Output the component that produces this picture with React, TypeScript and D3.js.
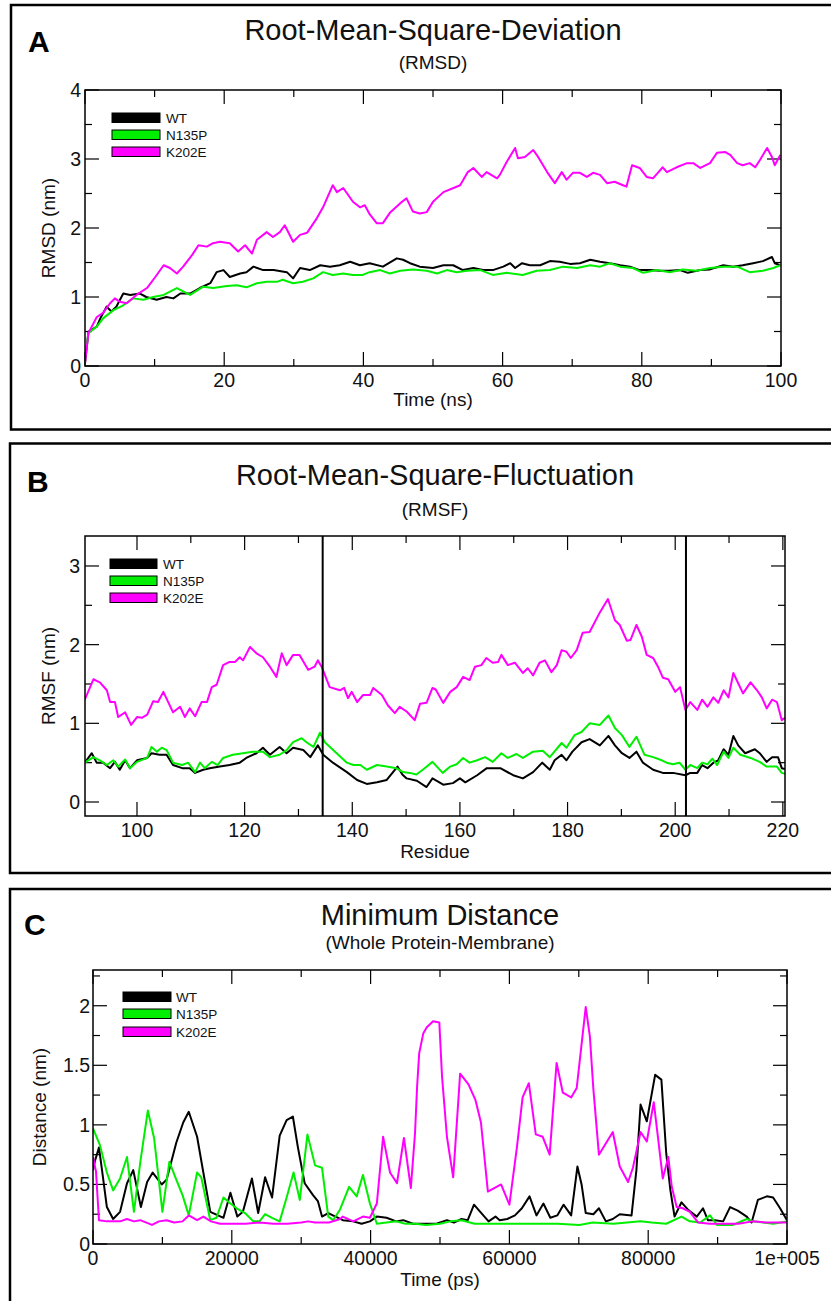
import React from "react";
import * as d3 from "d3";

type Pt = [number, number];

const SERIES = ["WT", "N135P", "K202E"];
const COLORS = ["#000000", "#00ee00", "#ff00ff"];

// ---- Panel A: RMSD (time ns, nm)
const rmsdWT: Pt[] = [[0,0.04],[0.5,0.5],[1.7,0.57],[2.2,0.69],[3.1,0.86],[3.8,0.79],[4.5,0.86],[5.5,1.05],[6.5,1.03],[7.9,1.05],[8.8,1.0],[10.3,0.96],[11.7,1.0],[12.7,0.98],[13.7,1.05],[15.1,1.05],[16.5,1.13],[18,1.2],[18.9,1.36],[19.9,1.39],[20.8,1.29],[22.3,1.34],[23.2,1.36],[24.2,1.44],[25.6,1.39],[27.1,1.39],[29,1.36],[29.9,1.27],[30.9,1.42],[32.3,1.39],[33.8,1.46],[35.2,1.44],[36.6,1.46],[38.1,1.51],[39.5,1.46],[40.9,1.49],[42.8,1.44],[44.8,1.56],[45.7,1.54],[46.7,1.49],[48.1,1.44],[50,1.42],[51.5,1.46],[52.9,1.46],[54.3,1.39],[55.8,1.42],[57.2,1.39],[58.6,1.39],[60.1,1.44],[61.1,1.49],[61.8,1.42],[62.8,1.49],[63.9,1.46],[65.4,1.46],[66.8,1.52],[68.2,1.51],[69.7,1.48],[71.1,1.49],[72.6,1.54],[74,1.51],[75.4,1.49],[76.9,1.46],[78.3,1.44],[79.7,1.39],[81.2,1.39],[82.6,1.38],[84,1.38],[85.5,1.39],[86.6,1.35],[88.4,1.39],[89.8,1.4],[91.7,1.46],[93.1,1.44],[94.5,1.46],[96,1.49],[97.4,1.52],[98.7,1.58],[99.1,1.49],[99.9,1.46]];
const rmsdN135P: Pt[] = [[0,0.13],[0.5,0.48],[1.7,0.57],[2.6,0.69],[4.1,0.81],[5.5,0.88],[6.9,0.98],[8.4,0.96],[9.8,1.0],[11.3,1.03],[13.2,1.13],[15.1,1.03],[17,1.15],[18.4,1.13],[20.4,1.16],[21.8,1.17],[23.2,1.14],[24.7,1.2],[26.1,1.22],[27.6,1.22],[28.4,1.25],[29.9,1.2],[31.3,1.22],[32.8,1.27],[34.2,1.36],[35.6,1.32],[37.1,1.34],[38.5,1.32],[39.9,1.32],[40.9,1.36],[42.4,1.39],[43.8,1.34],[45.3,1.38],[47.1,1.4],[49.1,1.38],[50.6,1.34],[52,1.39],[53.4,1.36],[54.9,1.38],[56.8,1.39],[58.6,1.32],[60.6,1.35],[62.9,1.32],[64.9,1.38],[66.8,1.39],[68.7,1.44],[70.7,1.42],[72.6,1.46],[74,1.44],[75.4,1.49],[76.9,1.44],[78.7,1.42],[80.2,1.35],[82.2,1.39],[84,1.36],[85.9,1.4],[87.9,1.38],[89.8,1.42],[91.7,1.44],[93.7,1.44],[95.5,1.36],[97.4,1.38],[98.9,1.42],[99.9,1.46]];
const rmsdK202E: Pt[] = [[0,0.04],[0.5,0.48],[1.7,0.71],[2.6,0.77],[3.6,0.91],[4.3,0.98],[5,0.93],[6,0.91],[7.4,1.03],[8.9,1.13],[10.1,1.29],[11.3,1.46],[12.2,1.42],[13.2,1.34],[14.1,1.44],[15.4,1.61],[16.3,1.75],[17.5,1.73],[18.4,1.78],[19.4,1.8],[20.8,1.78],[22,1.66],[23,1.75],[24,1.63],[24.7,1.83],[26.1,1.94],[27,1.87],[28,1.94],[28.7,2.04],[29.9,1.8],[30.9,1.9],[31.9,1.93],[33.3,2.14],[34.2,2.3],[35.6,2.62],[36.2,2.52],[37.1,2.58],[38.5,2.38],[39.5,2.3],[40.2,2.33],[40.9,2.2],[41.9,2.07],[42.8,2.07],[43.8,2.22],[45.3,2.36],[46.2,2.43],[47.1,2.24],[48.1,2.21],[49.1,2.23],[50,2.38],[51.5,2.52],[53.9,2.62],[55,2.81],[55.8,2.87],[57,2.74],[57.7,2.81],[59.2,2.72],[59.6,2.77],[60.6,2.96],[61.8,3.16],[62.2,3.01],[63.2,3.03],[64.4,3.13],[65.1,3.03],[66.4,2.81],[67.5,2.65],[68.5,2.81],[69.2,2.7],[70.1,2.8],[71.1,2.8],[72.1,2.74],[73,2.8],[74,2.77],[75,2.65],[76.1,2.67],[77.3,2.62],[77.8,2.6],[78.6,2.91],[79.7,2.87],[80.7,2.74],[81.6,2.72],[82.3,2.8],[83,2.88],[83.6,2.81],[85,2.88],[86.5,2.94],[87.4,2.94],[88.4,2.87],[89.8,2.94],[90.8,3.09],[92,3.1],[92.7,3.06],[93.7,2.94],[94.5,2.91],[95.5,2.94],[96.3,2.88],[97,2.99],[98,3.16],[98.7,3.03],[99.1,2.91],[99.9,3.06]];

// ---- Panel B: RMSF (residue, nm)
const rmsfWT: Pt[] = [[90.3,0.5],[91.6,0.62],[92.5,0.5],[93.7,0.5],[95,0.43],[95.9,0.51],[96.8,0.41],[97.8,0.53],[98.7,0.43],[100,0.53],[101.9,0.56],[102.7,0.62],[104.2,0.6],[105.5,0.6],[106.7,0.47],[108.4,0.43],[109.8,0.43],[110.8,0.37],[112.3,0.41],[113.5,0.43],[115.4,0.45],[117.2,0.47],[119.1,0.5],[120.3,0.56],[122.2,0.62],[123.4,0.69],[124.7,0.6],[126.5,0.7],[127.8,0.62],[129,0.69],[130.9,0.66],[132.2,0.57],[133.6,0.72],[134.6,0.6],[136.4,0.5],[139,0.38],[140.9,0.28],[142.7,0.23],[144.6,0.25],[146.4,0.28],[148.4,0.45],[149.3,0.35],[150.1,0.3],[152,0.27],[153.8,0.19],[154.9,0.3],[156.9,0.22],[158.7,0.24],[160,0.3],[161,0.25],[163.2,0.34],[165,0.43],[167.5,0.43],[169.9,0.34],[171.7,0.3],[173.6,0.38],[175.3,0.5],[176.7,0.41],[177.6,0.53],[178.9,0.6],[179.8,0.53],[180.9,0.64],[182.6,0.76],[184.1,0.8],[186,0.72],[187.6,0.84],[188.8,0.72],[190.1,0.62],[191.5,0.56],[192.8,0.64],[194,0.5],[195.9,0.41],[197.7,0.37],[199.6,0.37],[201.9,0.34],[202.8,0.37],[204.1,0.37],[205,0.47],[206,0.43],[207.1,0.5],[208,0.53],[209,0.67],[209.9,0.6],[210.8,0.84],[211.7,0.72],[213,0.62],[214.8,0.67],[215.7,0.62],[217,0.51],[218,0.57],[219.1,0.57],[219.8,0.43],[220.4,0.42]];
const rmsfN135P: Pt[] = [[90.3,0.5],[91.9,0.57],[93.1,0.53],[94.4,0.47],[95.6,0.53],[96.5,0.45],[97.8,0.54],[98.7,0.43],[100,0.51],[101.9,0.56],[102.7,0.7],[103.7,0.64],[104.6,0.69],[105.5,0.66],[106.7,0.5],[108.4,0.47],[109.5,0.5],[110.8,0.38],[111.7,0.5],[112.6,0.43],[113.9,0.51],[115,0.47],[116,0.56],[117.8,0.6],[119.7,0.62],[121.5,0.64],[123.4,0.64],[124.7,0.57],[126.5,0.6],[127.8,0.66],[129,0.76],[130.6,0.81],[131.5,0.76],[132.8,0.7],[134,0.88],[134.9,0.76],[137.1,0.62],[139,0.5],[140.2,0.47],[141.5,0.47],[142.7,0.41],[144.6,0.47],[146.4,0.45],[148.2,0.43],[149.4,0.38],[150.7,0.37],[151.9,0.35],[153.1,0.41],[154.9,0.51],[156.8,0.37],[158.2,0.45],[159.4,0.48],[160.6,0.56],[161.8,0.5],[163.2,0.53],[164.7,0.57],[166.1,0.51],[167.7,0.62],[168.9,0.56],[170.5,0.61],[171.7,0.56],[173.6,0.64],[175.4,0.65],[176.7,0.57],[178.9,0.75],[179.8,0.69],[181.3,0.85],[182.6,0.89],[184.1,1.0],[186,0.98],[187.6,1.1],[188.8,0.94],[190.1,0.85],[191.5,0.7],[192.8,0.83],[194.3,0.6],[195.9,0.57],[197.5,0.53],[198.4,0.5],[199.6,0.48],[200.8,0.5],[201.9,0.41],[202.8,0.47],[204.1,0.43],[205,0.5],[206,0.48],[206.9,0.55],[207.8,0.47],[209,0.64],[209.9,0.56],[210.8,0.69],[212.1,0.6],[214,0.56],[215.7,0.51],[217,0.45],[218.9,0.45],[219.8,0.37],[220.4,0.36]];
const rmsfK202E: Pt[] = [[90.3,1.3],[91.9,1.56],[93.1,1.52],[94.4,1.42],[95,1.27],[95.9,1.27],[96.5,1.08],[97.8,1.14],[98.9,0.98],[100,1.08],[100.9,1.07],[101.9,1.11],[103,1.28],[103.9,1.27],[104.9,1.4],[105.8,1.27],[106.7,1.14],[108,1.21],[108.9,1.08],[109.8,1.19],[110.8,1.09],[112,1.27],[113,1.27],[113.9,1.46],[114.8,1.49],[116,1.74],[117.2,1.78],[118.2,1.78],[119.1,1.84],[119.7,1.8],[121,1.97],[122.2,1.89],[123.4,1.84],[124.7,1.72],[125.9,1.59],[126.9,1.89],[127.8,1.74],[129,1.87],[130.2,1.87],[131.8,1.68],[133,1.72],[133.6,1.8],[134.3,1.72],[135.8,1.46],[137.7,1.42],[138.5,1.45],[139.2,1.32],[139.9,1.4],[140.9,1.27],[142,1.36],[143.3,1.36],[143.9,1.45],[145.5,1.36],[146.6,1.23],[147.9,1.13],[148.8,1.21],[150.1,1.15],[151.6,1.04],[152.6,1.25],[153.8,1.26],[154.9,1.45],[155.5,1.43],[156.9,1.26],[158.2,1.4],[159.4,1.46],[160.6,1.59],[161.8,1.55],[162.8,1.72],[164,1.74],[164.9,1.83],[166.1,1.77],[167.1,1.78],[167.7,1.87],[168.9,1.74],[170.2,1.77],[171.7,1.64],[172.6,1.7],[173.6,1.61],[174.8,1.77],[175.8,1.8],[177,1.65],[178,1.74],[178.9,1.93],[179.8,1.91],[180.6,1.83],[181.7,1.93],[182.8,2.15],[184.1,2.16],[186,2.41],[187.5,2.58],[188.8,2.31],[189.7,2.25],[191,2.05],[191.7,2.06],[192.8,2.25],[193.8,2.1],[194.7,1.87],[195.9,1.83],[196.8,1.72],[197.7,1.58],[198.7,1.56],[200,1.4],[200.9,1.46],[201.9,1.17],[202.8,1.27],[204.1,1.17],[205,1.3],[206,1.21],[207.1,1.33],[208,1.26],[209,1.42],[209.9,1.33],[210.8,1.64],[211.7,1.51],[212.6,1.38],[214,1.52],[215.2,1.42],[216.1,1.33],[217,1.19],[218,1.3],[218.9,1.27],[219.8,1.04],[220.4,1.07]];

// ---- Panel C: minimum distance (time ps, nm)
const mindWT: Pt[] = [[0,0.62],[290,0.7],[860,0.81],[1300,0.62],[2000,0.31],[2900,0.21],[3900,0.27],[4900,0.51],[5800,0.62],[6900,0.31],[7800,0.52],[8600,0.6],[9900,0.5],[10600,0.54],[12000,0.85],[13000,1.02],[13800,1.11],[15000,0.9],[15900,0.6],[16900,0.27],[18800,0.22],[19800,0.43],[20800,0.23],[21600,0.27],[22900,0.55],[23800,0.26],[24800,0.56],[25800,0.39],[26900,0.91],[27900,1.04],[28800,1.07],[29500,0.82],[30500,0.51],[31700,0.41],[32400,0.36],[33000,0.23],[33900,0.26],[36000,0.2],[37500,0.19],[38700,0.17],[39900,0.19],[40900,0.23],[42300,0.22],[43700,0.19],[44700,0.2],[46100,0.17],[48100,0.17],[49500,0.17],[51000,0.2],[52000,0.18],[53100,0.21],[54000,0.2],[54900,0.33],[55800,0.27],[57000,0.19],[58000,0.23],[58600,0.2],[59700,0.21],[60800,0.24],[61800,0.3],[62900,0.4],[63900,0.24],[64900,0.34],[65900,0.22],[66900,0.24],[67800,0.33],[68900,0.24],[69800,0.65],[70400,0.5],[71000,0.26],[72100,0.25],[72900,0.3],[73900,0.19],[74900,0.21],[75900,0.25],[77600,0.24],[78300,0.62],[78900,1.17],[79800,1.03],[81000,1.42],[81900,1.38],[82600,0.76],[83200,0.45],[83800,0.23],[84800,0.35],[85700,0.29],[87000,0.23],[87900,0.3],[88600,0.2],[89600,0.2],[90800,0.19],[91800,0.31],[92900,0.28],[94200,0.23],[94900,0.18],[95800,0.37],[97100,0.4],[98000,0.39],[99000,0.3],[100000,0.2]];
const mindN135P: Pt[] = [[0,0.97],[1000,0.83],[2000,0.6],[2900,0.45],[3900,0.55],[4900,0.73],[5900,0.27],[6800,0.68],[7900,1.12],[8800,0.89],[10000,0.27],[11000,0.69],[12000,0.54],[12900,0.41],[13800,0.24],[15000,0.6],[15600,0.56],[16900,0.2],[17800,0.22],[18800,0.39],[19800,0.34],[20700,0.3],[21900,0.26],[23100,0.19],[24000,0.19],[24800,0.25],[25800,0.22],[26900,0.19],[27900,0.39],[28900,0.6],[29800,0.37],[30900,0.92],[32000,0.66],[33000,0.64],[33900,0.23],[34600,0.2],[35600,0.29],[36900,0.48],[38000,0.4],[38900,0.58],[39900,0.34],[40900,0.17],[42300,0.18],[43700,0.19],[45000,0.17],[46400,0.17],[48000,0.16],[50000,0.17],[51500,0.19],[53100,0.2],[55000,0.17],[58000,0.17],[61000,0.17],[64000,0.17],[67000,0.17],[70100,0.16],[72000,0.18],[75000,0.17],[78900,0.19],[80500,0.18],[82600,0.17],[84800,0.23],[86000,0.19],[87500,0.18],[88900,0.24],[89900,0.16],[92200,0.16],[94200,0.21],[95100,0.19],[96600,0.18],[98000,0.17],[100000,0.19]];
const mindK202E: Pt[] = [[0,0.73],[430,0.61],[860,0.2],[2000,0.19],[3900,0.19],[4900,0.21],[5900,0.19],[6800,0.2],[8500,0.16],[9500,0.19],[10600,0.2],[11700,0.18],[12900,0.19],[13800,0.24],[15000,0.2],[15900,0.23],[17000,0.19],[18300,0.17],[20000,0.17],[22000,0.17],[24000,0.18],[26000,0.17],[28000,0.17],[30000,0.18],[31000,0.19],[32000,0.18],[34000,0.18],[35600,0.21],[36000,0.23],[37500,0.19],[38900,0.23],[39900,0.22],[40900,0.34],[41800,0.9],[42800,0.6],[43800,0.51],[44800,0.89],[45800,0.47],[46400,0.93],[46700,1.32],[47000,1.6],[47600,1.77],[48100,1.82],[49000,1.87],[49900,1.86],[50300,1.4],[51000,0.9],[51900,0.56],[52900,1.43],[54100,1.34],[55100,1.21],[55900,1.02],[56900,0.44],[58800,0.5],[60000,0.33],[61100,0.82],[61900,1.23],[62800,1.35],[63800,0.92],[64800,0.9],[65800,0.75],[66800,1.52],[67700,1.27],[68900,1.23],[69700,1.31],[71000,1.99],[71600,1.74],[72100,1.3],[72900,0.75],[74900,0.94],[75900,0.65],[77100,0.52],[77800,0.64],[78900,0.94],[79800,0.86],[80800,1.19],[81400,0.9],[82100,0.55],[82900,0.73],[83400,0.48],[84100,0.31],[85000,0.3],[86000,0.27],[87200,0.18],[88900,0.17],[91000,0.17],[93000,0.17],[95000,0.19],[97000,0.18],[100000,0.18]];

// tick values
const aXMajor = [0, 20, 40, 60, 80, 100];
const aXMinor = [10, 30, 50, 70, 90];
const aYMajor = [0, 1, 2, 3, 4];
const aYMinor = [0.5, 1.5, 2.5, 3.5];
const bXMajor = [100, 120, 140, 160, 180, 200, 220];
const bXMinor = [110, 130, 150, 170, 190, 210];
const bYMajor = [0, 1, 2, 3];
const bYMinor = [0.5, 1.5, 2.5];
const bMarkers = [134.5, 202];
const cXMajor = [0, 20000, 40000, 60000, 80000, 100000];
const cXLabels = ["0", "20000", "40000", "60000", "80000", "1e+005"];
const cXMinor = [10000, 30000, 50000, 70000, 90000];
const cYMajor = [0, 0.5, 1, 1.5, 2];
const cYMinor = [0.25, 0.75, 1.25, 1.75, 2.25];

const FONT = "'Liberation Sans', Arial, Helvetica, sans-serif";

interface Cfg {
  id: string;
  letter: string; letterX: number; letterY: number;
  title: string; titleY: number; subtitle: string; subY: number;
  boxTop: number; boxLeft: number; boxBottom: number | null;
  l: number; t: number; r: number; b: number;
  xDomain: [number, number]; yDomain: [number, number];
  xMajor: number[]; xMinor: number[]; xLabels?: string[];
  yMajor: number[]; yMinor: number[];
  xTickY: number; xLabelY: number; yLabelX: number; yTickGap: number;
  xLabel: string; yLabel: string;
  series: Pt[][];
  legX: number; legW: number; legTops: number[]; legTextX: number;
  vlines?: number[];
}

const panels: Cfg[] = [
  {
    id: "A", letter: "A", letterX: 28, letterY: 52,
    title: "Root-Mean-Square-Deviation", titleY: 40, subtitle: "(RMSD)", subY: 69,
    boxTop: 5, boxLeft: 11, boxBottom: 429.5,
    l: 85, t: 90, r: 781, b: 366,
    xDomain: [0, 100], yDomain: [0, 4],
    xMajor: aXMajor, xMinor: aXMinor, yMajor: aYMajor, yMinor: aYMinor,
    xTickY: 387, xLabelY: 406, yLabelX: 55, yTickGap: 4,
    xLabel: "Time (ns)", yLabel: "RMSD (nm)",
    series: [rmsdWT, rmsdN135P, rmsdK202E],
    legX: 112, legW: 48, legTops: [113, 130, 147], legTextX: 166,
  },
  {
    id: "B", letter: "B", letterX: 27, letterY: 492,
    title: "Root-Mean-Square-Fluctuation", titleY: 485, subtitle: "(RMSF)", subY: 516,
    boxTop: 443.5, boxLeft: 10, boxBottom: 873,
    l: 85, t: 536, r: 785, b: 816,
    xDomain: [90.34, 220.4], yDomain: [-0.178, 3.381],
    xMajor: bXMajor, xMinor: bXMinor, yMajor: bYMajor, yMinor: bYMinor,
    xTickY: 837, xLabelY: 858, yLabelX: 55, yTickGap: 5,
    xLabel: "Residue", yLabel: "RMSF (nm)",
    series: [rmsfWT, rmsfN135P, rmsfK202E],
    legX: 110, legW: 47, legTops: [559, 576, 593], legTextX: 163,
    vlines: bMarkers,
  },
  {
    id: "C", letter: "C", letterX: 24, letterY: 935,
    title: "Minimum Distance", titleY: 925, subtitle: "(Whole Protein-Membrane)", subY: 949,
    boxTop: 889, boxLeft: 10, boxBottom: null,
    l: 93, t: 970, r: 787, b: 1244,
    xDomain: [0, 100000], yDomain: [0, 2.3],
    xMajor: cXMajor, xMinor: cXMinor, xLabels: cXLabels, yMajor: cYMajor, yMinor: cYMinor,
    xTickY: 1265, xLabelY: 1286, yLabelX: 46, yTickGap: 3,
    xLabel: "Time (ps)", yLabel: "Distance (nm)",
    series: [mindWT, mindN135P, mindK202E],
    legX: 123, legW: 48, legTops: [992, 1009, 1027], legTextX: 176,
  },
];

function Panel({ c }: { c: Cfg }) {
  const x = d3.scaleLinear().domain(c.xDomain).range([c.l, c.r]);
  const y = d3.scaleLinear().domain(c.yDomain).range([c.b, c.t]);
  const line = d3.line<Pt>().x((d) => x(d[0])).y((d) => y(d[1]));
  const cx = (c.l + c.r) / 2;
  const cy = (c.t + c.b) / 2;
  const MAJ = 14, MIN = 7;
  const boxPath = c.boxBottom === null
    ? `M833,${c.boxTop}H${c.boxLeft}V1305`
    : `M833,${c.boxTop}H${c.boxLeft}V${c.boxBottom}H833`;
  const fmtY = (v: number) => String(v);
  return (
    <g>
      <path d={boxPath} fill="none" stroke="#000" strokeWidth={2.5} />
      <text x={c.letterX} y={c.letterY} fontFamily={FONT} fontWeight="bold" fontSize={30} fill="#000">{c.letter}</text>
      <text x={cx} y={c.titleY} textAnchor="middle" fontFamily={FONT} fontSize={29} fill="#111">{c.title}</text>
      <text x={cx} y={c.subY} textAnchor="middle" fontFamily={FONT} fontSize={19} fill="#111">{c.subtitle}</text>
      <defs>
        <clipPath id={`clip${c.id}`}>
          <rect x={c.l} y={c.t} width={c.r - c.l} height={c.b - c.t} />
        </clipPath>
      </defs>
      {/* ticks */}
      <g stroke="#000" strokeWidth={1.2}>
        {c.xMajor.map((v) => (
          <g key={`xm${v}`}>
            <line x1={x(v)} x2={x(v)} y1={c.b} y2={c.b - MAJ} />
            <line x1={x(v)} x2={x(v)} y1={c.t} y2={c.t + MAJ} />
          </g>
        ))}
        {c.xMinor.map((v) => (
          <g key={`xn${v}`}>
            <line x1={x(v)} x2={x(v)} y1={c.b} y2={c.b - MIN} />
            <line x1={x(v)} x2={x(v)} y1={c.t} y2={c.t + MIN} />
          </g>
        ))}
        {c.yMajor.map((v) => (
          <g key={`ym${v}`}>
            <line x1={c.l} x2={c.l + MAJ} y1={y(v)} y2={y(v)} />
            <line x1={c.r} x2={c.r - MAJ} y1={y(v)} y2={y(v)} />
          </g>
        ))}
        {c.yMinor.map((v) => (
          <g key={`yn${v}`}>
            <line x1={c.l} x2={c.l + MIN} y1={y(v)} y2={y(v)} />
            <line x1={c.r} x2={c.r - MIN} y1={y(v)} y2={y(v)} />
          </g>
        ))}
      </g>
      {/* tick labels */}
      <g fontFamily={FONT} fontSize={19.5} fill="#111">
        {c.xMajor.map((v, i) => (
          <text key={`xl${v}`} x={x(v)} y={c.xTickY} textAnchor="middle">
            {c.xLabels ? c.xLabels[i] : String(v)}
          </text>
        ))}
        {c.yMajor.map((v) => (
          <text key={`yl${v}`} x={c.l - c.yTickGap} y={y(v)} textAnchor="end" dominantBaseline="central">
            {fmtY(v)}
          </text>
        ))}
      </g>
      <text x={cx} y={c.xLabelY} textAnchor="middle" fontFamily={FONT} fontSize={19} fill="#111">{c.xLabel}</text>
      <text transform={`translate(${c.yLabelX},${cy}) rotate(-90)`} textAnchor="middle" fontFamily={FONT} fontSize={19} fill="#111">{c.yLabel}</text>
      {/* data */}
      <g clipPath={`url(#clip${c.id})`}>
        {c.series.map((s, i) => (
          <path key={`s${i}`} d={line(s) || ""} fill="none" stroke={COLORS[i]} strokeWidth={2} strokeLinejoin="round" />
        ))}
      </g>
      {c.vlines && c.vlines.map((v) => (
        <line key={`v${v}`} x1={x(v)} x2={x(v)} y1={c.t} y2={c.b} stroke="#000" strokeWidth={2} />
      ))}
      <rect x={c.l} y={c.t} width={c.r - c.l} height={c.b - c.t} fill="none" stroke="#000" strokeWidth={1.5} />
      {/* legend */}
      {SERIES.map((name, i) => (
        <g key={name}>
          <rect x={c.legX} y={c.legTops[i]} width={c.legW} height={9.5} fill={COLORS[i]} stroke="#000" strokeWidth={1} />
          <text x={c.legTextX} y={c.legTops[i] + 5} dominantBaseline="central" fontFamily={FONT} fontSize={13.5} fill="#111">{name}</text>
        </g>
      ))}
    </g>
  );
}

export default function App() {
  return (
    <svg
      width={831}
      height={1301}
      viewBox="0 0 831 1301"
      style={{ position: "absolute", left: 0, top: 0, background: "#fff" }}
    >
      <rect x={0} y={0} width={831} height={1301} fill="#fff" />
      {panels.map((p) => (
        <Panel key={p.id} c={p} />
      ))}
    </svg>
  );
}
